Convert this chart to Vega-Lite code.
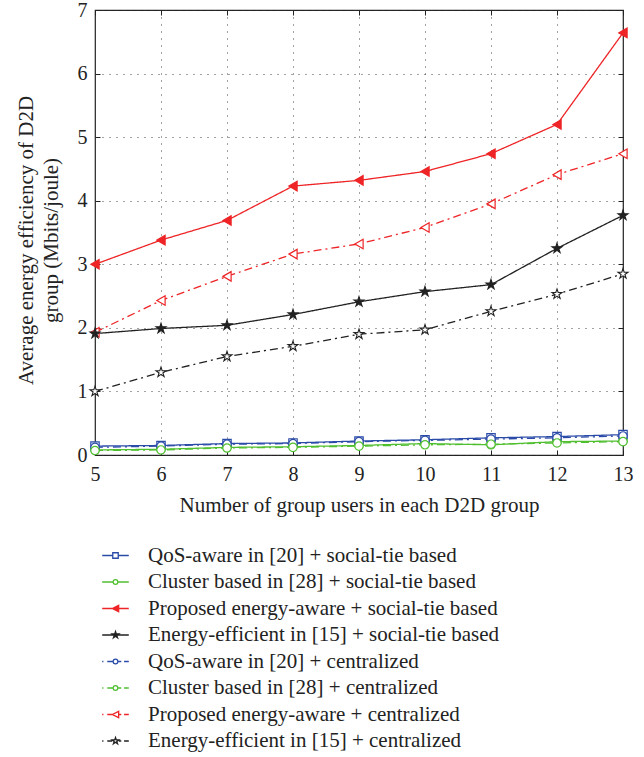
{
  "$schema": "https://vega.github.io/schema/vega-lite/v6.json",
  "width": 528,
  "height": 445,
  "autosize": {"type": "none"},
  "padding": {"left": 95, "top": 10, "right": 21, "bottom": 302},
  "config": {
    "font": "Liberation Serif",
    "view": {"stroke": "#222222", "strokeWidth": 1.2},
    "axis": {
      "labelFont": "Liberation Serif",
      "titleFont": "Liberation Serif",
      "labelFontSize": 20,
      "titleFontSize": 21,
      "titleFontWeight": "normal",
      "labelColor": "#222222",
      "titleColor": "#222222",
      "domain": false,
      "tickColor": "#222222",
      "tickSize": -5,
      "gridColor": "#333333",
      "gridDash": [1, 6],
      "gridOpacity": 0.9
    },
    "legend": {
      "labelFont": "Liberation Serif",
      "labelFontSize": 21,
      "labelColor": "#222222",
      "orient": "none",
      "legendX": 10,
      "legendY": 535,
      "rowPadding": 4.5,
      "labelOffset": 22,
      "labelLimit": 0,
      "symbolSize": 49,
      "symbolStrokeWidth": 1.3,
      "symbolOpacity": 1
    }
  },
  "resolve": {"axis": {"x": "independent", "y": "independent"}},
  "datasets": {
    "series": [
      {"n": 5, "s": "QoS-aware in [20] + social-tie based", "v": 0.14},
      {"n": 6, "s": "QoS-aware in [20] + social-tie based", "v": 0.15},
      {"n": 7, "s": "QoS-aware in [20] + social-tie based", "v": 0.18},
      {"n": 8, "s": "QoS-aware in [20] + social-tie based", "v": 0.19},
      {"n": 9, "s": "QoS-aware in [20] + social-tie based", "v": 0.22},
      {"n": 10, "s": "QoS-aware in [20] + social-tie based", "v": 0.24},
      {"n": 11, "s": "QoS-aware in [20] + social-tie based", "v": 0.27},
      {"n": 12, "s": "QoS-aware in [20] + social-tie based", "v": 0.29},
      {"n": 13, "s": "QoS-aware in [20] + social-tie based", "v": 0.32},
      {"n": 5, "s": "Cluster based in [28] + social-tie based", "v": 0.08},
      {"n": 6, "s": "Cluster based in [28] + social-tie based", "v": 0.09},
      {"n": 7, "s": "Cluster based in [28] + social-tie based", "v": 0.12},
      {"n": 8, "s": "Cluster based in [28] + social-tie based", "v": 0.13},
      {"n": 9, "s": "Cluster based in [28] + social-tie based", "v": 0.15},
      {"n": 10, "s": "Cluster based in [28] + social-tie based", "v": 0.18},
      {"n": 11, "s": "Cluster based in [28] + social-tie based", "v": 0.16},
      {"n": 12, "s": "Cluster based in [28] + social-tie based", "v": 0.21},
      {"n": 13, "s": "Cluster based in [28] + social-tie based", "v": 0.22},
      {"n": 5, "s": "Proposed energy-aware + social-tie based", "v": 3.0},
      {"n": 6, "s": "Proposed energy-aware + social-tie based", "v": 3.38},
      {"n": 7, "s": "Proposed energy-aware + social-tie based", "v": 3.69},
      {"n": 8, "s": "Proposed energy-aware + social-tie based", "v": 4.23},
      {"n": 9, "s": "Proposed energy-aware + social-tie based", "v": 4.32},
      {"n": 10, "s": "Proposed energy-aware + social-tie based", "v": 4.46},
      {"n": 11, "s": "Proposed energy-aware + social-tie based", "v": 4.74},
      {"n": 12, "s": "Proposed energy-aware + social-tie based", "v": 5.2},
      {"n": 13, "s": "Proposed energy-aware + social-tie based", "v": 6.64},
      {"n": 5, "s": "Energy-efficient in [15] + social-tie based", "v": 1.91},
      {"n": 6, "s": "Energy-efficient in [15] + social-tie based", "v": 1.99},
      {"n": 7, "s": "Energy-efficient in [15] + social-tie based", "v": 2.04},
      {"n": 8, "s": "Energy-efficient in [15] + social-tie based", "v": 2.21},
      {"n": 9, "s": "Energy-efficient in [15] + social-tie based", "v": 2.41},
      {"n": 10, "s": "Energy-efficient in [15] + social-tie based", "v": 2.57},
      {"n": 11, "s": "Energy-efficient in [15] + social-tie based", "v": 2.68},
      {"n": 12, "s": "Energy-efficient in [15] + social-tie based", "v": 3.25},
      {"n": 13, "s": "Energy-efficient in [15] + social-tie based", "v": 3.77},
      {"n": 5, "s": "QoS-aware in [20] + centralized", "v": 0.12},
      {"n": 6, "s": "QoS-aware in [20] + centralized", "v": 0.14},
      {"n": 7, "s": "QoS-aware in [20] + centralized", "v": 0.17},
      {"n": 8, "s": "QoS-aware in [20] + centralized", "v": 0.18},
      {"n": 9, "s": "QoS-aware in [20] + centralized", "v": 0.21},
      {"n": 10, "s": "QoS-aware in [20] + centralized", "v": 0.23},
      {"n": 11, "s": "QoS-aware in [20] + centralized", "v": 0.25},
      {"n": 12, "s": "QoS-aware in [20] + centralized", "v": 0.27},
      {"n": 13, "s": "QoS-aware in [20] + centralized", "v": 0.30},
      {"n": 5, "s": "Cluster based in [28] + centralized", "v": 0.07},
      {"n": 6, "s": "Cluster based in [28] + centralized", "v": 0.08},
      {"n": 7, "s": "Cluster based in [28] + centralized", "v": 0.11},
      {"n": 8, "s": "Cluster based in [28] + centralized", "v": 0.12},
      {"n": 9, "s": "Cluster based in [28] + centralized", "v": 0.14},
      {"n": 10, "s": "Cluster based in [28] + centralized", "v": 0.16},
      {"n": 11, "s": "Cluster based in [28] + centralized", "v": 0.17},
      {"n": 12, "s": "Cluster based in [28] + centralized", "v": 0.19},
      {"n": 13, "s": "Cluster based in [28] + centralized", "v": 0.21},
      {"n": 5, "s": "Proposed energy-aware + centralized", "v": 1.93},
      {"n": 6, "s": "Proposed energy-aware + centralized", "v": 2.43},
      {"n": 7, "s": "Proposed energy-aware + centralized", "v": 2.81},
      {"n": 8, "s": "Proposed energy-aware + centralized", "v": 3.16},
      {"n": 9, "s": "Proposed energy-aware + centralized", "v": 3.32},
      {"n": 10, "s": "Proposed energy-aware + centralized", "v": 3.58},
      {"n": 11, "s": "Proposed energy-aware + centralized", "v": 3.95},
      {"n": 12, "s": "Proposed energy-aware + centralized", "v": 4.41},
      {"n": 13, "s": "Proposed energy-aware + centralized", "v": 4.74},
      {"n": 5, "s": "Energy-efficient in [15] + centralized", "v": 1.0},
      {"n": 6, "s": "Energy-efficient in [15] + centralized", "v": 1.30},
      {"n": 7, "s": "Energy-efficient in [15] + centralized", "v": 1.55},
      {"n": 8, "s": "Energy-efficient in [15] + centralized", "v": 1.71},
      {"n": 9, "s": "Energy-efficient in [15] + centralized", "v": 1.90},
      {"n": 10, "s": "Energy-efficient in [15] + centralized", "v": 1.97},
      {"n": 11, "s": "Energy-efficient in [15] + centralized", "v": 2.26},
      {"n": 12, "s": "Energy-efficient in [15] + centralized", "v": 2.53},
      {"n": 13, "s": "Energy-efficient in [15] + centralized", "v": 2.85}
    ]
  },
  "data": {"name": "series"},
  "encoding": {
    "x": {"field": "n", "type": "quantitative", "scale": {"domain": [5, 13], "nice": false}, "axis": null},
    "y": {"field": "v", "type": "quantitative", "scale": {"domain": [0, 7], "nice": false}, "axis": null}
  },
  "layer": [
    {
      "mark": {"type": "line", "strokeWidth": 1.3},
      "encoding": {
        "x": {
          "field": "n",
          "type": "quantitative",
          "axis": {"orient": "bottom", "values": [5, 6, 7, 8, 9, 10, 11, 12, 13], "title": "Number of group users in each D2D group", "labelPadding": 14, "titlePadding": 10, "labelFlush": false}
        },
        "y": {
          "field": "v",
          "type": "quantitative",
          "axis": {"orient": "left", "values": [0, 1, 2, 3, 4, 5, 6, 7], "title": ["Average energy efficiency of D2D", "group (Mbits/joule)"], "titleLineHeight": 25, "titleY": 230, "labelPadding": 13, "titlePadding": 16}
        },
        "stroke": {
          "field": "s",
          "type": "nominal",
          "sort": null,
          "legend": {"title": null},
          "scale": {
            "domain": ["QoS-aware in [20] + social-tie based", "Cluster based in [28] + social-tie based", "Proposed energy-aware + social-tie based", "Energy-efficient in [15] + social-tie based", "QoS-aware in [20] + centralized", "Cluster based in [28] + centralized", "Proposed energy-aware + centralized", "Energy-efficient in [15] + centralized"],
            "range": ["#2b4ba8", "#4fbf2f", "#ee2426", "#222222", "#2b4ba8", "#4fbf2f", "#ee2426", "#222222"]
          }
        },
        "strokeDash": {
          "field": "s",
          "type": "nominal",
          "sort": null,
          "legend": null,
          "scale": {
            "domain": ["QoS-aware in [20] + centralized", "Cluster based in [28] + centralized", "Proposed energy-aware + centralized", "Energy-efficient in [15] + centralized", "QoS-aware in [20] + social-tie based", "Cluster based in [28] + social-tie based", "Proposed energy-aware + social-tie based", "Energy-efficient in [15] + social-tie based"],
            "range": [[8, 4, 2, 4], [8, 4, 2, 4], [8, 4, 2, 4], [8, 4, 2, 4], [1, 0], [1, 0], [1, 0], [1, 0]]
          }
        }
      }
    },
    {
      "transform": [{"filter": {"field": "s", "oneOf": ["QoS-aware in [20] + social-tie based"]}}],
      "mark": {"type": "point", "shape": "square", "size": 70, "strokeWidth": 1.2, "opacity": 1},
      "encoding": {
        "stroke": {"field": "s", "type": "nominal", "sort": null, "legend": {"title": null}},
        "fill": {
          "field": "s",
          "type": "nominal",
          "sort": null,
          "legend": {"title": null},
          "scale": {
            "domain": ["QoS-aware in [20] + social-tie based", "Cluster based in [28] + social-tie based", "Proposed energy-aware + social-tie based", "Energy-efficient in [15] + social-tie based", "QoS-aware in [20] + centralized", "Cluster based in [28] + centralized", "Proposed energy-aware + centralized", "Energy-efficient in [15] + centralized"],
            "range": ["white", "white", "#ee2426", "#222222", "white", "white", "white", "white"]
          }
        }
      }
    },
    {
      "transform": [{"filter": {"field": "s", "oneOf": ["Cluster based in [28] + social-tie based", "QoS-aware in [20] + centralized", "Cluster based in [28] + centralized"]}}],
      "mark": {"type": "point", "shape": "circle", "size": 70, "strokeWidth": 1.2, "opacity": 1},
      "encoding": {
        "stroke": {"field": "s", "type": "nominal", "sort": null, "legend": {"title": null}},
        "fill": {"field": "s", "type": "nominal", "sort": null, "legend": {"title": null}}
      }
    },
    {
      "transform": [{"filter": {"field": "s", "oneOf": ["Proposed energy-aware + social-tie based", "Proposed energy-aware + centralized"]}}],
      "mark": {"type": "point", "shape": "triangle-left", "size": 90, "strokeWidth": 1.2, "opacity": 1},
      "encoding": {
        "stroke": {"field": "s", "type": "nominal", "sort": null, "legend": {"title": null}},
        "fill": {"field": "s", "type": "nominal", "sort": null, "legend": {"title": null}}
      }
    },
    {
      "transform": [{"filter": {"field": "s", "oneOf": ["Energy-efficient in [15] + social-tie based", "Energy-efficient in [15] + centralized"]}}],
      "mark": {"type": "point", "shape": "M0,-1L0.2245,-0.309L0.951,-0.309L0.363,0.118L0.588,0.809L0,0.382L-0.588,0.809L-0.363,0.118L-0.951,-0.309L-0.2245,-0.309Z", "size": 110, "strokeWidth": 1.1, "opacity": 1},
      "encoding": {
        "stroke": {"field": "s", "type": "nominal", "sort": null, "legend": {"title": null}},
        "fill": {"field": "s", "type": "nominal", "sort": null, "legend": {"title": null}}
      }
    },
    {
      "mark": {"type": "point", "size": 49, "opacity": 0},
      "encoding": {
        "x": {
          "field": "n",
          "type": "quantitative",
          "axis": {"orient": "top", "values": [5, 6, 7, 8, 9, 10, 11, 12, 13], "labels": false, "title": null, "grid": false}
        },
        "y": {
          "field": "v",
          "type": "quantitative",
          "axis": {"orient": "right", "values": [0, 1, 2, 3, 4, 5, 6, 7], "labels": false, "title": null, "grid": false}
        },
        "stroke": {"field": "s", "type": "nominal", "sort": null, "legend": {"title": null}},
        "fill": {"field": "s", "type": "nominal", "sort": null, "legend": {"title": null}},
        "shape": {
          "field": "s", "type": "nominal", "sort": null,
          "legend": {"title": null},
          "scale": {
            "domain": ["QoS-aware in [20] + social-tie based", "Cluster based in [28] + social-tie based", "Proposed energy-aware + social-tie based", "Energy-efficient in [15] + social-tie based", "QoS-aware in [20] + centralized", "Cluster based in [28] + centralized", "Proposed energy-aware + centralized", "Energy-efficient in [15] + centralized"],
            "range": [
              "M-3.8,0L-0.78,0M0.78,0L3.8,0M-0.78,-0.78L0.78,-0.78L0.78,0.78L-0.78,0.78Z",
              "M-3.8,0L-0.67,0M0.67,0L3.8,0M-0.67,0A0.67,0.67,0,1,1,0.67,0A0.67,0.67,0,1,1,-0.67,0Z",
              "M-3.8,0L3.8,0M-0.9,0L0.9,-0.9L0.9,0.9Z",
              "M-3.8,0L3.8,0M0,-1L0.2245,-0.309L0.951,-0.309L0.363,0.118L0.588,0.809L0,0.382L-0.588,0.809L-0.363,0.118L-0.951,-0.309L-0.2245,-0.309Z",
              "M-3.8,0L-3.45,0M-2.35,0L-0.67,0M0.67,0L1.65,0M2.45,0L3.8,0M-0.67,0A0.67,0.67,0,1,1,0.67,0A0.67,0.67,0,1,1,-0.67,0Z",
              "M-3.8,0L-3.45,0M-2.35,0L-0.67,0M0.67,0L1.65,0M2.45,0L3.8,0M-0.67,0A0.67,0.67,0,1,1,0.67,0A0.67,0.67,0,1,1,-0.67,0Z",
              "M-3.8,0L-3.45,0M-2.35,0L-0.9,0M0.9,0L1.65,0M2.45,0L3.8,0M-0.9,0L0.9,-0.9L0.9,0.9Z",
              "M-3.8,0L-3.45,0M-2.35,0L-0.95,0M0.95,0L1.65,0M2.45,0L3.8,0M0,-1L0.2245,-0.309L0.951,-0.309L0.363,0.118L0.588,0.809L0,0.382L-0.588,0.809L-0.363,0.118L-0.951,-0.309L-0.2245,-0.309Z"
            ]
          }
        }
      }
    }
  ]
}
